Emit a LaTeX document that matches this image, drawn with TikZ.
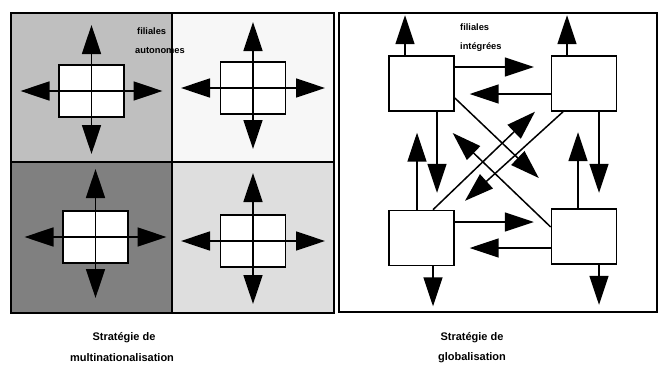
\documentclass[tikz,border=0pt]{standalone}
\usepackage{fontspec}
\setmainfont{Liberation Sans}
\usetikzlibrary{arrows.meta,positioning}
\definecolor{qGrayA}{gray}{0.75}
\definecolor{qGrayB}{gray}{0.97}
\definecolor{qGrayC}{gray}{0.5}
\definecolor{qGrayD}{gray}{0.87}
\tikzset{
    filiale/.style={rectangle, draw, line width=1.6pt, fill=white, minimum width=65pt, minimum height=52pt, inner sep=0pt},
    filialeg/.style={filiale, minimum height=55pt},
    bigarr/.style={line width=1.5pt, -{Triangle[length=29pt,width=19pt]}},
    dblarr/.style={line width=1.5pt, {Triangle[length=29pt,width=19pt]}-{Triangle[length=29pt,width=19pt]}},
    frame/.style={line width=1.6pt},
    lbl/.style={font=\bfseries\fontsize{9.3}{10}\selectfont, anchor=west, inner sep=0pt},
    capt/.style={font=\bfseries\fontsize{11}{12}\selectfont, inner sep=0pt}
}

\begin{document}
\begin{tikzpicture}[x=1pt,y=-1pt]
\useasboundingbox (0,0) rectangle (658,367);
% multinationalisation: four shaded quarters
\fill[qGrayA] (11,13) rectangle (172,162);
\fill[qGrayB] (172,13) rectangle (334,162);
\fill[qGrayC] (11,162) rectangle (172,313);
\fill[qGrayD] (172,162) rectangle (334,313);
\node[lbl] (fil1) at (137,31) {filiales};
\node[lbl] (aut) at (135,51) {autonomes};
\draw[frame] (11,13) rectangle (334,313);
\draw[frame] (172,13) -- (172,313);
\draw[frame] (11,162) -- (334,162);

\node[filiale] (a1) at (91.5,91) {};
\node[filiale] (a2) at (253,88) {};
\node[filiale] (a3) at (95.5,237) {};
\node[filiale] (a4) at (253,241) {};
\draw[dblarr] ([xshift=-71pt]a1.center) -- ([xshift=71pt]a1.center);
\draw[dblarr] ([yshift=66pt]a1.center) -- ([yshift=-63pt]a1.center);
\draw[dblarr] ([xshift=-72pt]a2.center) -- ([xshift=72pt]a2.center);
\draw[dblarr] ([yshift=66pt]a2.center) -- ([yshift=-61pt]a2.center);
\draw[dblarr] ([xshift=-71pt]a3.center) -- ([xshift=71pt]a3.center);
\draw[dblarr] ([yshift=68pt]a3.center) -- ([yshift=-61pt]a3.center);
\draw[dblarr] ([xshift=-72pt]a4.center) -- ([xshift=72pt]a4.center);
\draw[dblarr] ([yshift=68pt]a4.center) -- ([yshift=-63pt]a4.center);

% globalisation: linked subsidiaries
\draw[frame] (339,13) rectangle (657,312);
\node[lbl] (fil2) at (460,27) {filiales};
\node[lbl] (integ) at (460,47) {intégrées};
\node[filialeg] (b1) at (421.5,83.5) {};
\node[filialeg] (b2) at (584,83.5) {};
\node[filialeg] (b3) at (421.5,238) {};
\node[filialeg] (b4) at (584,236.5) {};

\draw[bigarr] ([xshift=-16.5pt]b1.north) -- ++(0,-40);
\draw[bigarr] ([xshift=-17pt]b2.north) -- ++(0,-40);
\draw[bigarr] ([xshift=11.5pt]b3.south) -- ++(0,40);
\draw[bigarr] ([xshift=15pt]b4.south) -- ++(0,40);

\draw[bigarr] ([yshift=16.5pt]b1.east) -- ++(79,0);
\draw[bigarr] ([yshift=-10.5pt]b2.west) -- ++(-81,0);
\draw[bigarr] ([yshift=16pt]b3.east) -- ++(79,0);
\draw[bigarr] ([yshift=-11.5pt]b4.west) -- ++(-81,0);

\draw[bigarr] ([xshift=15.5pt]b1.south) -- ++(0,81);
\draw[bigarr] ([xshift=-4.5pt]b3.north) -- ++(0,-77);
\draw[bigarr] ([xshift=15pt]b2.south) -- ++(0,81);
\draw[bigarr] ([xshift=-6pt]b4.north) -- ++(0,-76);

\draw[bigarr] ([yshift=-14.5pt]b1.east) -- ++(84,80);
\draw[bigarr] ([yshift=9.5pt]b4.west) -- ++(-98,-94);
\draw[bigarr] ([xshift=11.5pt]b3.north) -- ++(102,-98);
\draw[bigarr] ([xshift=-21pt]b2.south) -- ++(-98,89);

\node[capt] (s1) at (124,338) {Stratégie de};
\node[capt] (m1) at (122,358) {multinationalisation};
\node[capt] (s2) at (472,338) {Stratégie de};
\node[capt] (g2) at (472,358) {globalisation};
\end{tikzpicture}
\end{document}
